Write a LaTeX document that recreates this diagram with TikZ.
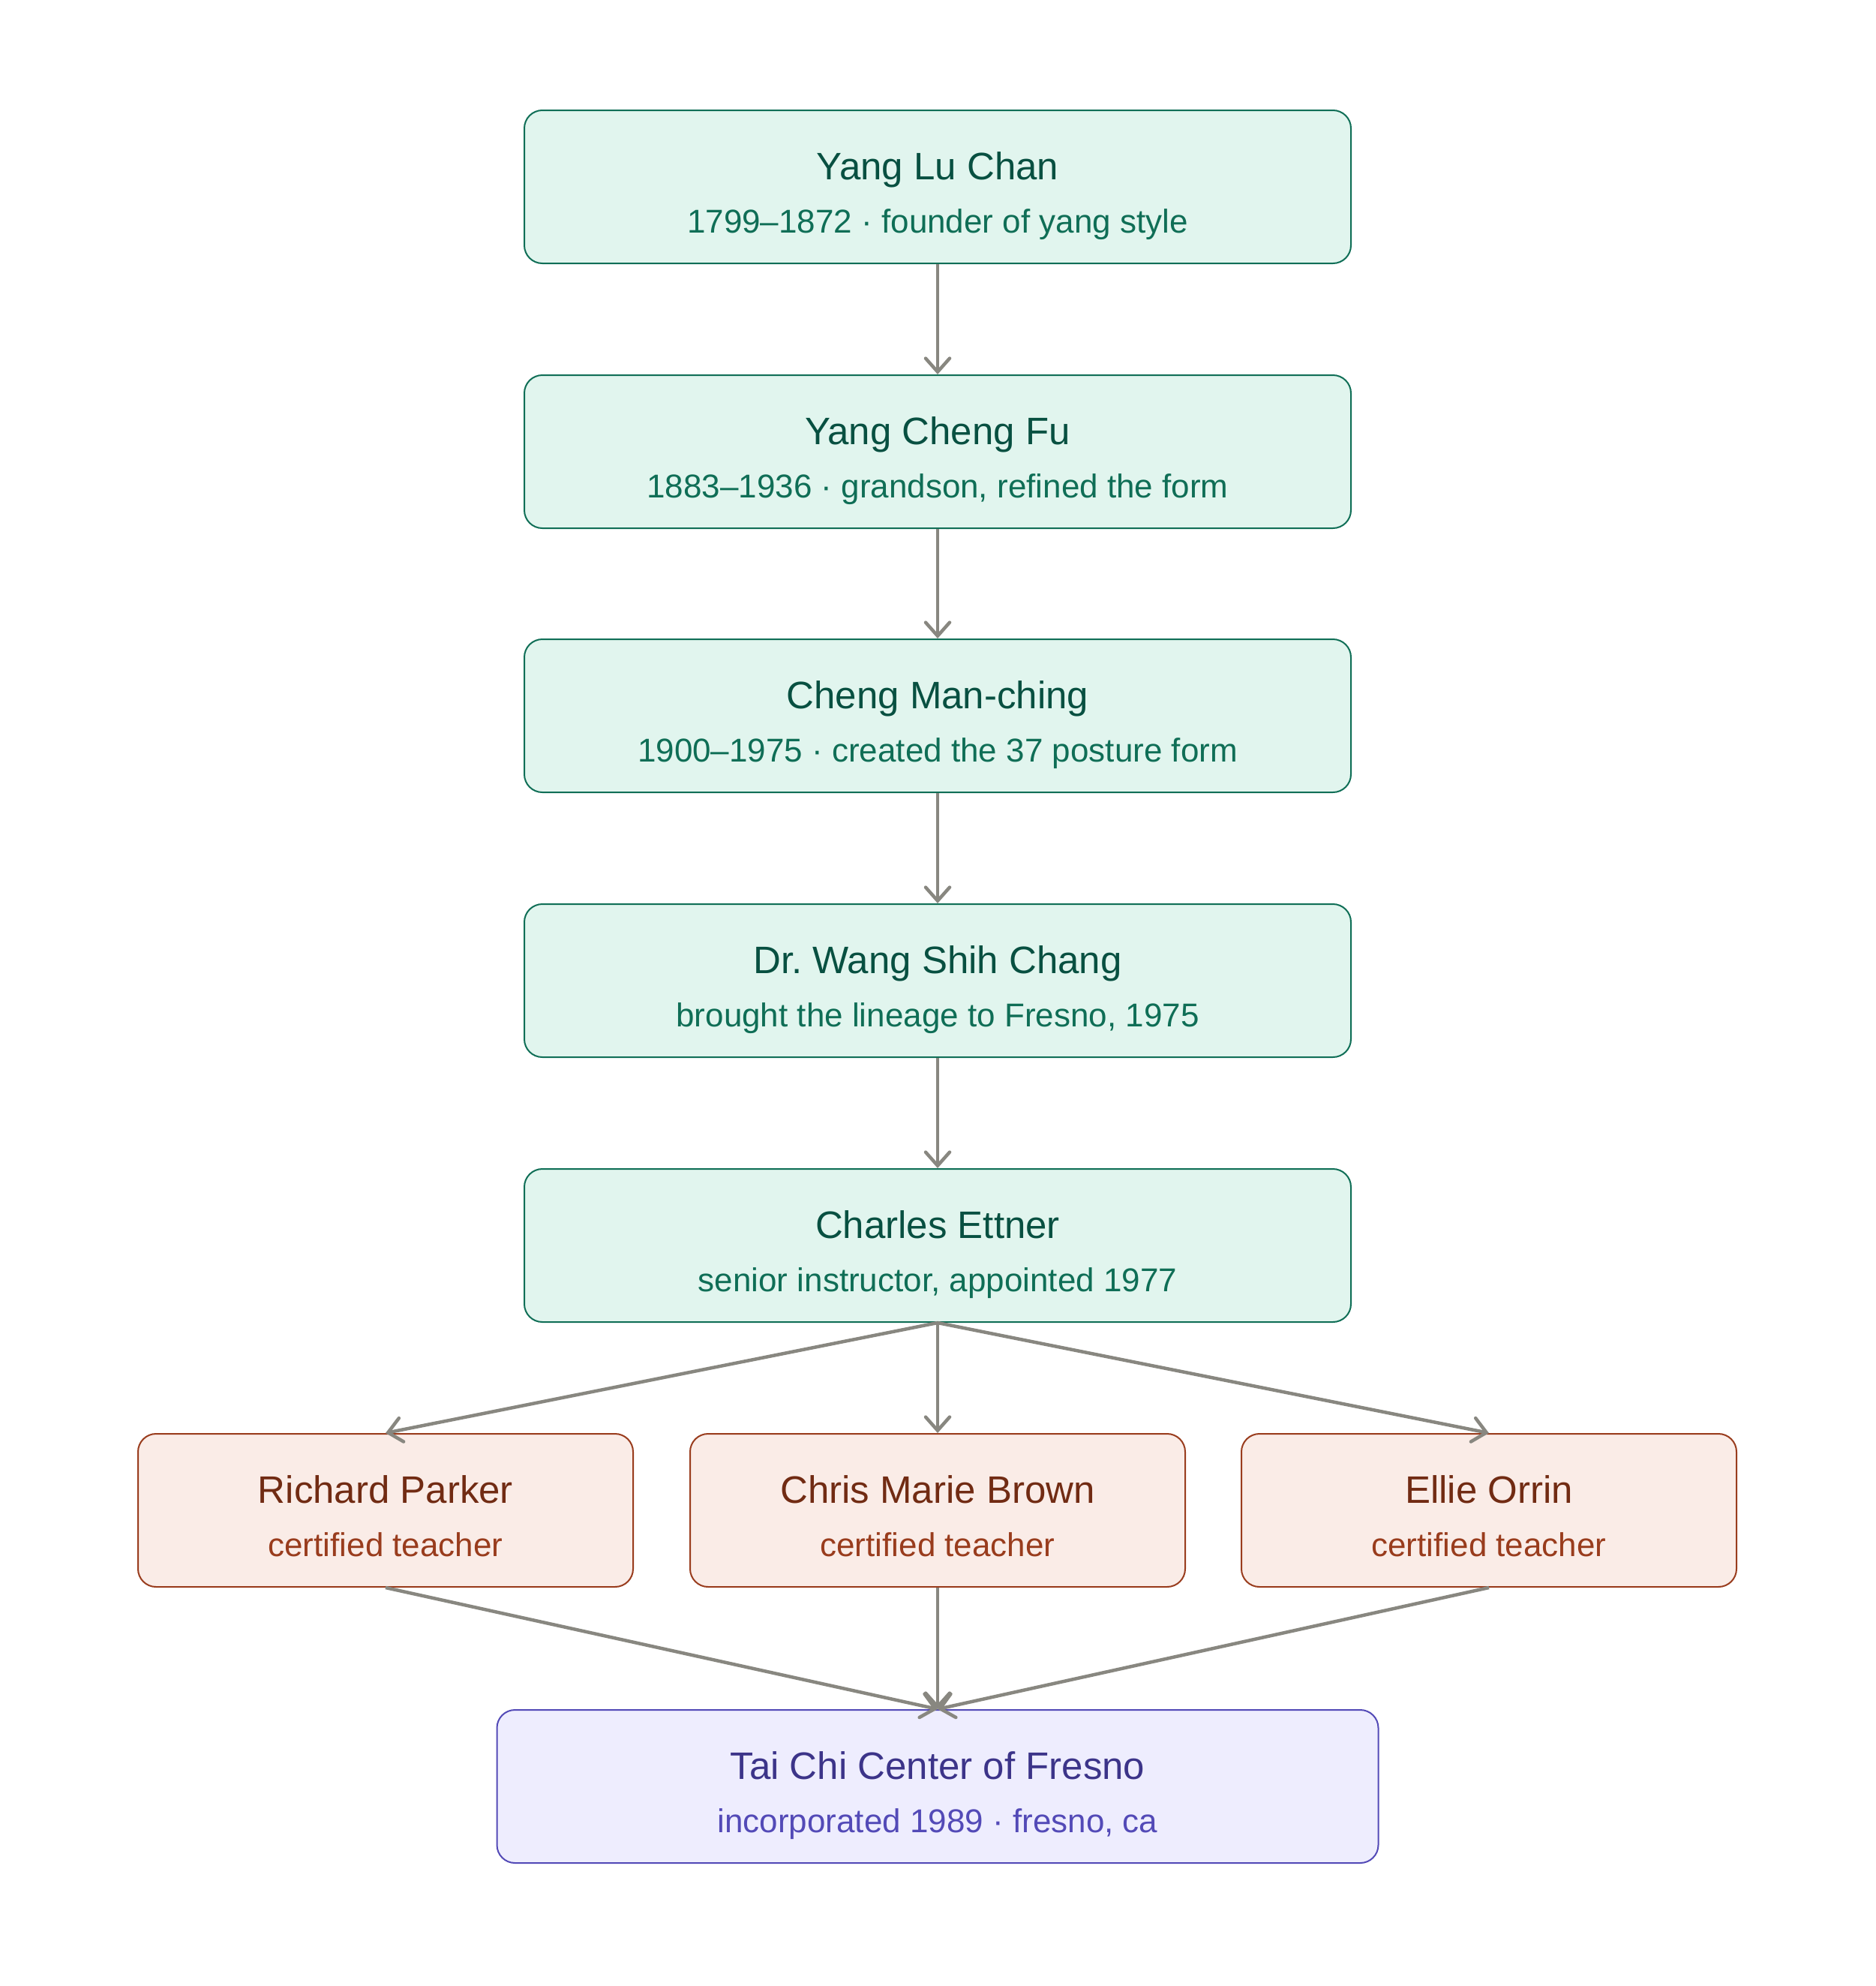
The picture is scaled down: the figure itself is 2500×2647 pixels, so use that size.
\documentclass[tikz,border=0pt]{standalone}
\usepackage{fontspec}
\setmainfont{Liberation Sans}
\usetikzlibrary{arrows.meta}
\definecolor{gfill}{HTML}{E1F5EE}
\definecolor{gline}{HTML}{0F6E56}
\definecolor{gtitle}{HTML}{085041}
\definecolor{ofill}{HTML}{FAECE7}
\definecolor{oline}{HTML}{993C1D}
\definecolor{otitle}{HTML}{712B13}
\definecolor{pfill}{HTML}{EEEDFE}
\definecolor{pline}{HTML}{534AB7}
\definecolor{ptitle}{HTML}{3C3489}
\definecolor{arrgray}{HTML}{888780}
\newcommand\mkbox[7]{%
  \node[boxbase,#2] (#1) at (#3,#4) {};
  \node[titletext,text=#2title] (#1t) at (#3,#4-10) {#5};
  \node[subtext,text=#2line] (#1s) at (#3,#4+61) {#6};
}
\frenchspacing
\begin{document}
\begin{tikzpicture}[x=1pt,y=-1pt,
  boxbase/.style={draw, rounded corners=24pt, line width=2pt, minimum height=204pt, inner sep=0pt},
  g/.style={fill=gfill, draw=gline, minimum width=1102pt},
  o/.style={fill=ofill, draw=oline, minimum width=660pt},
  p/.style={fill=pfill, draw=pline, minimum width=1175pt},
  titletext/.style={anchor=base, inner sep=0pt, font=\fontsize{51}{60}\selectfont},
  subtext/.style={anchor=base, inner sep=0pt, font=\fontsize{44}{52}\selectfont},
  arr/.style={draw=arrgray, line width=4.5pt, -{Straight Barb[length=18pt,width=32pt,line cap=round]}}
]
\useasboundingbox (0,0) rectangle (2500,2647);
\mkbox{g1}{g}{1250}{249}{Yang Lu Chan}{1799–1872 · founder of yang style}{}
\mkbox{g2}{g}{1250}{602}{Yang Cheng Fu}{1883–1936 · grandson, refined the form}{}
\mkbox{g3}{g}{1250}{954}{Cheng Man-ching}{1900–1975 · created the 37 posture form}{}
\mkbox{g4}{g}{1250}{1307}{Dr. Wang Shih Chang}{brought the lineage to Fresno, 1975}{}
\mkbox{g5}{g}{1250}{1660}{Charles Ettner}{senior instructor, appointed 1977}{}
\mkbox{o1}{o}{514}{2013}{Richard Parker}{certified teacher}{}
\mkbox{o2}{o}{1250}{2013}{Chris Marie Brown}{certified teacher}{}
\mkbox{o3}{o}{1985}{2013}{Ellie Orrin}{certified teacher}{}
\mkbox{p1}{p}{1250}{2381}{Tai Chi Center of Fresno}{incorporated 1989 · fresno, ca}{}
\draw[arr] (g1.south) -- (g2.north);
\draw[arr] (g2.south) -- (g3.north);
\draw[arr] (g3.south) -- (g4.north);
\draw[arr] (g4.south) -- (g5.north);
\draw[arr] (g5.south) -- (o1.north);
\draw[arr] (g5.south) -- (o2.north);
\draw[arr] (g5.south) -- (o3.north);
\draw[arr] (o1.south) -- (p1.north);
\draw[arr] (o2.south) -- (p1.north);
\draw[arr] (o3.south) -- (p1.north);
\end{tikzpicture}
\end{document}
